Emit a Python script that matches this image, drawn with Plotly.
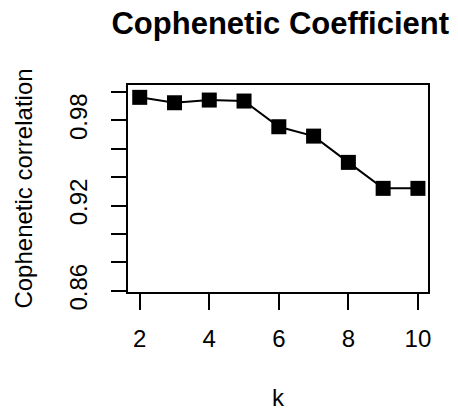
import plotly.graph_objects as go

k_values = [2, 3, 4, 5, 6, 7, 8, 9, 10]
cophenetic = [0.9962, 0.9924, 0.9943, 0.9936, 0.9755, 0.9689, 0.9504, 0.9321, 0.9321]
y_tick_vals = [0.86, 0.88, 0.90, 0.92, 0.94, 0.96, 0.98, 1.00]
y_tick_text = ["0.86", "", "", "0.92", "", "", "0.98", ""]
x_tick_vals = [2, 4, 6, 8, 10]

FONT = "Liberation Sans, Arial, Helvetica, sans-serif"

fig = go.Figure()
fig.add_trace(go.Scatter(
    x=k_values, y=cophenetic, mode="lines+markers",
    line=dict(color="black", width=2),
    marker=dict(symbol="square", size=15, color="black"),
    showlegend=False,
))

fig.update_layout(
    width=458, height=414,
    margin=dict(l=128, r=30, t=85, b=122, autoexpand=False),
    paper_bgcolor="white", plot_bgcolor="white",
    font=dict(family=FONT, size=24, color="black"),
    title=dict(text="<b>Cophenetic Coefficient</b>", x=0.612, xanchor="center",
               y=0.945, yanchor="middle", font=dict(family=FONT, size=31, color="black")),
)
fig.update_xaxes(
    range=[1.663, 10.29], tickvals=x_tick_vals, ticktext=[str(v) for v in x_tick_vals],
    showline=True, linecolor="black", linewidth=2, mirror=True,
    ticks="outside", ticklen=16, tickwidth=2, tickcolor="black",
    showgrid=False, zeroline=False, ticklabelstandoff=8, automargin=False,
    title=dict(text="k", standoff=38, font=dict(size=24)),
    tickfont=dict(size=24),
)
fig.update_yaxes(
    range=[0.8591, 1.0049], tickvals=y_tick_vals, ticktext=y_tick_text,
    showline=True, linecolor="black", linewidth=2, mirror=True,
    ticks="outside", ticklen=15, tickwidth=2, tickcolor="black",
    showgrid=False, zeroline=False, tickangle=-90, ticklabelstandoff=14, automargin=False,
    title=dict(text="Cophenetic correlation", standoff=26, font=dict(size=24)),
    tickfont=dict(size=24),
)

fig.write_html("out.html")
